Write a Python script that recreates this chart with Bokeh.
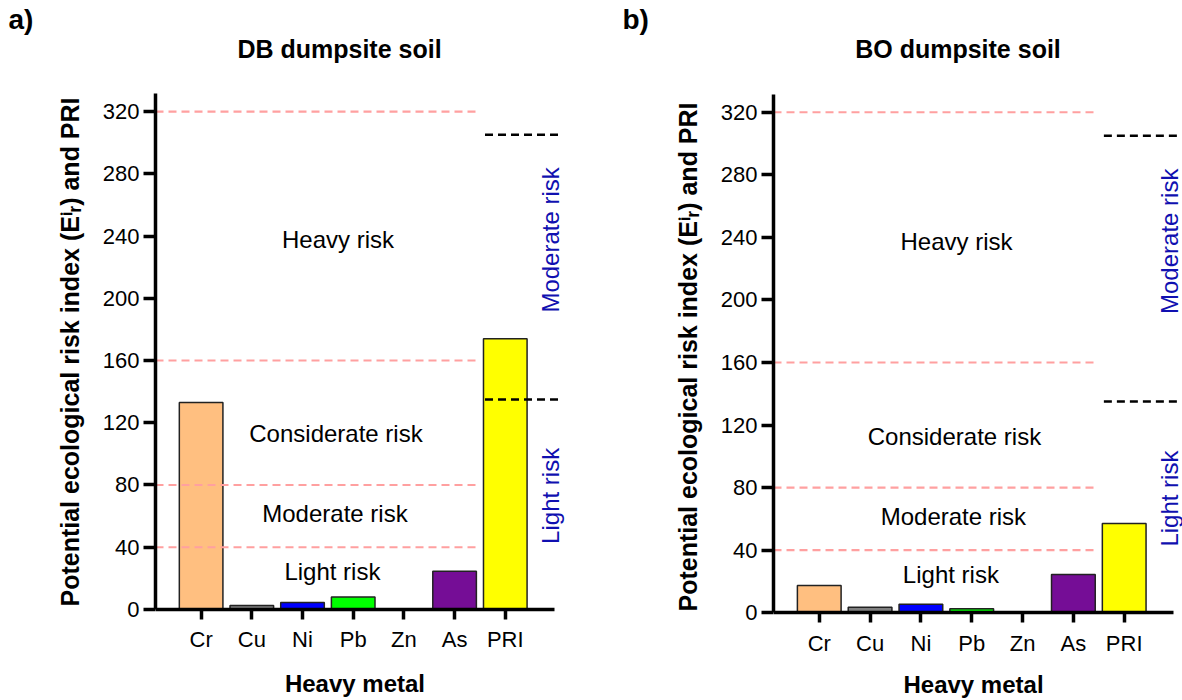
import numpy as np
from bokeh.plotting import figure
from bokeh.models import Range1d, FixedTicker, Label, ColumnDataSource, Title
from bokeh.layouts import row
from bokeh.embed import file_html
from bokeh.resources import INLINE

# ---- data ----
metals = ["Cr", "Cu", "Ni", "Pb", "Zn", "As", "PRI"]
bar_colors = ["#FFBF80", "#808080", "#0000FF", "#00FF00", "#FF9090", "#750D96", "#FFFF00"]
db_values = [133, 2.5, 4.5, 8, 0.3, 24.5, 174]
bo_values = [17.5, 3.5, 5.5, 2.5, 0.3, 24.5, 57]
er_thresholds = [40, 80, 160, 320]
pri_thresholds = [135, 305]
y_ticks = [0, 40, 80, 120, 160, 200, 240, 280, 320]
risk_labels = ["Light risk", "Moderate risk", "Considerate risk", "Heavy risk"]
pri_labels = ["Light risk", "Moderate risk"]
y_title = "Potential ecological risk index  (E\u2071\u1d63) and PRI"
x_title = "Heavy metal"

FONT = "Liberation Sans"
X0, XAXIS_END = 0.1, 7.97
Y0, YAXIS_END = 0, 331.5


def make_panel(values, title, letter, bl, br, bt, x1, y0, y1, title_y, xlab_y,
               letter_offset, ylab_offset):
    p = figure(width=591, height=700, output_backend="svg", toolbar_location=None,
               x_range=Range1d(X0, x1), y_range=Range1d(y0, y1),
               min_border_left=bl, min_border_right=br, min_border_top=bt, min_border_bottom=0)
    p.outline_line_color = None
    p.xgrid.visible = False
    p.ygrid.visible = False
    p.background_fill_color = "white"
    p.border_fill_color = "white"

    # panel letter as the plot title (top-left)
    p.title = Title(text=letter, align="left", offset=letter_offset, standoff=0,
                    text_font=FONT, text_font_size="28px", text_font_style="bold",
                    text_color="black")

    xs = list(range(1, len(metals) + 1))
    src = ColumnDataSource(dict(x=xs, top=values, color=bar_colors))
    p.vbar(x="x", top="top", bottom=0, width=0.86, fill_color="color",
           line_color="#222222", line_width=1.5, source=src)

    # Er thresholds (pink dashed)
    for t in er_thresholds:
        p.line([X0, 6.42], [t, t], line_color="#FFA0A0", line_width=2.2, line_dash="8 5")
    # PRI thresholds (black dashed)
    for t in pri_thresholds:
        p.line([6.6, 8.1], [t, t], line_color="black", line_width=2.5, line_dash="8 5")

    # axes styling
    for ax in (p.xaxis[0], p.yaxis[0]):
        ax.axis_line_width = 3.5
        ax.axis_line_color = "black"
        ax.major_tick_line_width = 3.5
        ax.major_tick_line_color = "black"
        ax.major_tick_in = 0
        ax.minor_tick_line_color = None
        ax.major_label_text_font = FONT
        ax.major_label_text_font_size = "22px"
        ax.major_label_text_color = "black"
    p.yaxis.ticker = FixedTicker(ticks=y_ticks)
    p.yaxis.major_tick_out = 12
    p.yaxis.major_label_standoff = 4
    p.yaxis.bounds = (Y0, YAXIS_END)
    p.xaxis.ticker = FixedTicker(ticks=xs)
    p.xaxis.major_label_overrides = {i + 1: m for i, m in enumerate(metals)}
    p.xaxis.major_tick_out = 10
    p.xaxis.major_label_standoff = 8
    p.xaxis.bounds = (X0, XAXIS_END)
    p.xaxis.fixed_location = 0

    # y axis title as a left side title
    p.add_layout(Title(text=y_title, align="left", offset=ylab_offset, standoff=31,
                       vertical_align="bottom", text_font=FONT, text_font_size="25px",
                       text_font_style="bold", text_color="black"), "left")

    # x axis title inside the (extended) frame
    p.add_layout(Label(x=(X0 + XAXIS_END) / 2, y=xlab_y, text=x_title, text_align="center",
                       text_baseline="middle", text_font=FONT, text_font_size="24px",
                       text_font_style="bold", text_color="black"))
    # panel title inside the (extended) frame
    p.add_layout(Label(x=3.73, y=title_y, text=title, text_align="center", text_baseline="middle",
                       text_font=FONT, text_font_size="25px", text_font_style="bold",
                       text_color="black"))

    # region labels
    lx = [3.59, 3.64, 3.66, 3.70]
    ly = [24.5, 61.5, 113, 237.5]
    for txt, x, y in zip(risk_labels, lx, ly):
        p.add_layout(Label(x=x, y=y, text=txt, text_align="center", text_baseline="middle",
                           text_font=FONT, text_font_size="24px", text_color="black"))
    # PRI labels (rotated, blue)
    for txt, y in zip(pri_labels, [73, 237.5]):
        p.add_layout(Label(x=7.9, y=y, text=txt, angle=np.pi / 2, text_align="center",
                           text_baseline="middle", text_font=FONT, text_font_size="24px",
                           text_color="#1010B0"))
    return p


pa = make_panel(db_values, "DB dumpsite soil", "a)", 155, 19, 34,
                8.326, -58.5, 369.5, 360.5, -47.5, -147, 94)
pb = make_panel(bo_values, "BO dumpsite soil", "b)", 182, 0, 34,
                8.147, -56.1, 369.7, 360.7, -45.6, -151, 89)

layout = row(pa, pb)
open("out.html", "w").write(file_html(layout, INLINE))
